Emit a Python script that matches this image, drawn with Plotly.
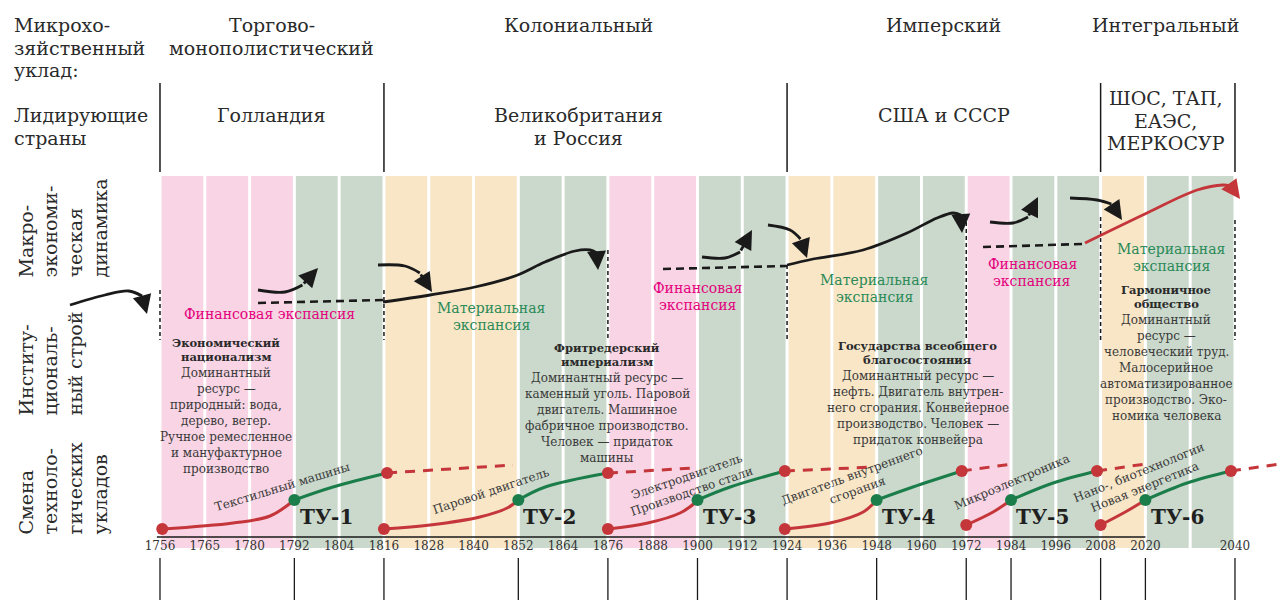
import plotly.graph_objects as go

FONT = "DejaVu Serif"
TXT = "#2a2a2a"
BODY = "#3a3a3a"
BG = {"P": "#f8d4e4", "G": "#cad9cc", "B": "#f8e6c7"}
RED = "#c5363b"
GREEN = "#1b7d4a"
MAGENTA = "#e4007c"
GTEXT = "#2b8a57"
BLACK = "#1a1a1a"

# ---------------- data ----------------
# categorical year positions (index 23 is an unlabeled slot)
years = ["1756", "1765", "1780", "1792", "1804", "1816", "1828", "1840", "1852",
         "1864", "1876", "1888", "1900", "1912", "1924", "1936", "1948", "1960",
         "1972", "1984", "1996", "2008", "2020", "", "2040"]
# phase of each interval between consecutive ticks: P finance, G growth, B material
phases = ["P", "P", "P", "G", "G", "B", "B", "B", "G", "G", "P", "P",
          "G", "G", "B", "B", "G", "G", "P", "G", "G", "B", "G", "G"]

structures = ["Торгово-<br>монополистический", "Колониальный", "Имперский", "Интегральный"]
structure_pos = [2.5, 9.35, 17.5, 22.45]
leaders = [["Голландия"], ["Великобритания", "и Россия"], ["США и СССР"],
           ["ШОС, ТАП,", "ЕАЭС,", "МЕРКОСУР"]]
leader_pos = [2.5, 9.35, 17.5, 22.45]
header_bounds = [0, 5, 14, 21, 24]
wave_bounds = [0, 3, 5, 8, 10, 12, 14, 16, 18, 19, 21, 22, 24]

# macro-economic dynamics: curved arrows (x = year index, y = level)
macro_arrows = [
    # (xs, ys, tip_x, tip_y, colour)
    ([-2.009, -1.228, -0.70, -0.40], [232, 242, 246, 241], -0.29, 223, BLACK),
    ([2.188, 2.791, 3.18], [247, 245, 252], 3.528, 269, BLACK),
    ([4.867, 5.470, 5.80], [272, 271, 264], 6.073, 245, BLACK),
    ([4.979, 6.028, 7.033, 7.926, 8.596, 9.266, 9.60, 9.75],
     [235, 242, 250, 261, 275, 286, 287, 284], 9.78, 267, BLACK),
    ([12.101, 12.614, 12.95], [280, 279, 285], 13.217, 307, BLACK),
    ([13.574, 14.066, 14.30], [312, 307, 298], 14.445, 279, BLACK),
    ([14.0, 14.580, 15.696, 16.678, 17.348, 17.705, 17.88],
     [272, 278, 287, 304, 319, 324, 322], 17.906, 304, BLACK),
    ([18.531, 19.044, 19.38], [315, 314, 320], 19.602, 340, BLACK),
    ([20.317, 20.920, 21.24], [339, 337, 333], 21.478, 317, BLACK),
    ([20.652, 22.036, 23.153, 23.733, 23.90], [294, 324, 347, 352, 351], 24.113, 338, RED),
]
macro_dashed = [([2.188, 4.979], [234, 237]), ([11.230, 14.0], [268, 271]),
                ([18.375, 20.607], [290, 293])]
phase_marks_x = [0, 5, 10, 14, 18, 21, 24]
phase_marks_top = [247, 247, 287, 272, 322, 320, 317]
phase_marks_bottom = 197

expansion_labels = [
    (["Финансовая экспансия"], 2.434, 223, MAGENTA),
    (["Материальная", "экспансия"], 7.41, 229, GTEXT),
    (["Финансовая", "экспансия"], 12.01, 249, MAGENTA),
    (["Материальная", "экспансия"], 15.96, 257, GTEXT),
    (["Финансовая", "экспансия"], 19.47, 273, MAGENTA),
    (["Материальная", "экспансия"], 22.59, 288, GTEXT),
]

institutions = [
    (["Экономический", "национализм"],
     ["Доминантный", "ресурс —", "природный: вода,", "дерево, ветер.",
      "Ручное ремесленное", "и мануфактурное", "производство"], 1.474, 194),
    (["Фритредерский", "империализм"],
     ["Доминантный ресурс —", "каменный уголь. Паровой", "двигатель. Машинное",
      "фабричное производство.", "Человек — придаток", "машины"], 9.98, 189),
    (["Государства всеобщего", "благосостояния"],
     ["Доминантный ресурс —", "нефть. Двигатель внутрен-", "него сгорания. Конвейерное",
      "производство. Человек —", "придаток конвейера"], 16.92, 191),
    (["Гармоничное", "общество"],
     ["Доминантный", "ресурс —", "человеческий труд.", "Малосерийное",
      "автоматизированное", "производство. Эко-", "номика человека"], 22.46, 247),
]

# technological waves (TU): rising (red) and maturing (green) segments
tu_names = ["ТУ-1", "ТУ-2", "ТУ-3", "ТУ-4", "ТУ-5", "ТУ-6"]
tu_red_x = [[0.05, 1.63, 2.456, 3.0], [5.0, 6.03, 7.14, 7.75, 8.0],
            [10.0, 10.89, 11.61, 11.94, 12.0], [13.95, 14.96, 15.7, 16.0],
            [18.0, 18.6, 19.0], [21.0, 21.55, 22.0]]
tu_red_y = [[8, 14, 21, 37], [8, 12, 20, 29, 37], [8, 14, 24, 34, 37],
            [8, 14, 25, 37], [12, 25, 37], [12, 25, 37]]
tu_green_x = [[3.0, 3.862, 5.07], [8.0, 8.6, 10.0], [12.0, 12.73, 13.95],
              [16.0, 16.81, 17.9], [19.0, 19.94, 20.92], [22.0, 22.93, 23.91]]
tu_green_y = [[37, 50, 64], [37, 50, 64], [37, 50, 66], [37, 50, 66],
              [37, 54, 66], [37, 54, 66]]
tu_tail_end_x = [7.88, 11.94, 15.96, 19.02, 22.0, 25.0]
tu_tail_end_y = [72, 69, 70, 73, 73, 73]
tu_techs = ["Текстильный машины", "Паровой двигатель",
            "Электродвигатель<br>Производство стали",
            "Двигатель внутреннего<br>сгорания", "Микроэлектроника",
            "Нано-, биотехнологии<br>Новая энергетика"]
tu_tech_x = [2.724, 7.39, 11.83, 15.52, 19.02, 21.92]
tu_tech_y = [50, 46, 53, 54, 55, 57]
tu_tech_angle = [-17, -18.5, -19, -20, -23, -22]

# ---------------- figure ----------------
fig = go.Figure()

# background phase columns
fig.add_trace(go.Bar(
    x=[i + 0.5 for i in range(len(phases))],
    y=[361 + 11] * len(phases), base=[-11] * len(phases),
    width=0.933, marker=dict(color=[BG[p] for p in phases], line=dict(width=0)),
    hoverinfo="skip"))

def line(xs, ys, color, width, dash=None, shape="spline"):
    fig.add_trace(go.Scatter(x=xs, y=ys, mode="lines", hoverinfo="skip",
                             line=dict(color=color, width=width, dash=dash,
                                       shape=shape, smoothing=1.0)))

# axis baseline
line([-0.07, 22.0], [0, 0], BLACK, 1.5, shape="linear")

# header separators and bottom wave separators
for b in header_bounds:
    line([b, b], [454, 365], BLACK, 1.5, shape="linear")
for b in wave_bounds:
    line([b, b], [-21, -63], BLACK, 1.3, shape="linear")

# macro phase boundary marks
for x, t in zip(phase_marks_x, phase_marks_top):
    line([x, x], [t, phase_marks_bottom], BLACK, 1.5, dash="4px,3px", shape="linear")
for xs, ys in macro_dashed:
    line(xs, ys, BLACK, 2.6, dash="8px,5px", shape="linear")
for xs, ys, tx, ty, col in macro_arrows:
    line(xs, ys, col, 2.8)
    fig.add_annotation(x=tx, y=ty, ax=xs[-1], ay=ys[-1], xref="x", yref="y",
                       axref="x", ayref="y", text="", showarrow=True,
                       arrowhead=2, arrowsize=1.35, arrowwidth=2.8, arrowcolor=col)

# technological waves
for k in range(len(tu_names)):
    line([tu_green_x[k][-1], tu_tail_end_x[k]], [tu_green_y[k][-1], tu_tail_end_y[k]],
         RED, 3, dash="10px,8px", shape="linear")
    line(tu_red_x[k], tu_red_y[k], RED, 3)
    line(tu_green_x[k], tu_green_y[k], GREEN, 3)
fig.add_trace(go.Scatter(
    x=[xs[0] for xs in tu_red_x] + [xs[-1] for xs in tu_green_x],
    y=[ys[0] for ys in tu_red_y] + [ys[-1] for ys in tu_green_y],
    mode="markers", marker=dict(color=RED, size=12), hoverinfo="skip"))
fig.add_trace(go.Scatter(
    x=[xs[0] for xs in tu_green_x], y=[ys[0] for ys in tu_green_y],
    mode="markers", marker=dict(color=GREEN, size=12), hoverinfo="skip"))

def text(x, y, s, size, color=TXT, xanchor="center", yanchor="middle",
         angle=0, align="center"):
    fig.add_annotation(x=x, y=y, xref="x", yref="y", text=s, showarrow=False,
                       xanchor=xanchor, yanchor=yanchor, textangle=angle, align=align,
                       font=dict(family=FONT, size=size, color=color))

def lines(x, y_first, items, step, size, color=TXT, bold=False, xanchor="center"):
    for j, s in enumerate(items):
        text(x, y_first - j * step, f"<b>{s}</b>" if bold else s, size, color, xanchor)

# tech labels & TU names
for k in range(len(tu_names)):
    text(tu_tech_x[k], tu_tech_y[k], tu_techs[k], 12, BODY, angle=tu_tech_angle[k])
    text(tu_green_x[k][0] + 0.07, 20, f"<b>{tu_names[k]}</b>", 20, "#1f1f1f", xanchor="left")

# header
lines(-3.304, 512, ["Микрохо-", "зяйственный", "уклад:"], 22.5, 19, xanchor="left")
lines(-3.304, 422, ["Лидирующие", "страны"], 22.5, 19, xanchor="left")
for s, x in zip(structures, structure_pos):
    lines(x, 512, s.split("<br>"), 23, 19)
for items, x in zip(leaders, leader_pos):
    y0 = 422 if len(items) < 3 else 439
    lines(x, y0, items, 22.5, 19)

# rotated row labels
text(-3.304, 257, "Макро-<br>экономи-<br>ческая<br>динамика", 19, TXT,
     xanchor="left", yanchor="bottom", angle=-90, align="left")
text(-3.304, 119, "Институ-<br>циональ-<br>ный строй", 19, TXT,
     xanchor="left", yanchor="bottom", angle=-90, align="left")
text(-3.304, 0, "Смена<br>техноло-<br>гических<br>укладов", 19, TXT,
     xanchor="left", yanchor="bottom", angle=-90, align="left")

# expansion labels
for items, x, y, col in expansion_labels:
    lines(x, y, items, 16.5, 14, col)

# institutional descriptions
for head, body, x, y in institutions:
    lines(x, y, head, 14, 11.5, "#2a2a2a", bold=True)
    lines(x, y - 30, body, 16, 12, BODY)

fig.update_layout(
    width=1280, height=600, margin=dict(l=0, r=0, t=0, b=0),
    paper_bgcolor="white", plot_bgcolor="white", showlegend=False,
    barmode="overlay",
    xaxis=dict(range=[-3.572, 25.005], showgrid=False, zeroline=False,
               showline=False, ticks="", tickvals=list(range(len(years))),
               ticktext=years, tickangle=0, anchor="free", position=0.105,
               tickfont=dict(family=FONT, size=12, color="#333333"),
               fixedrange=True, automargin=False),
    yaxis=dict(range=[-63, 537], visible=False, fixedrange=True, automargin=False),
)

fig.write_html("out.html", config={"displayModeBar": False, "staticPlot": True},
               post_script="document.body.style.margin='0px';")
